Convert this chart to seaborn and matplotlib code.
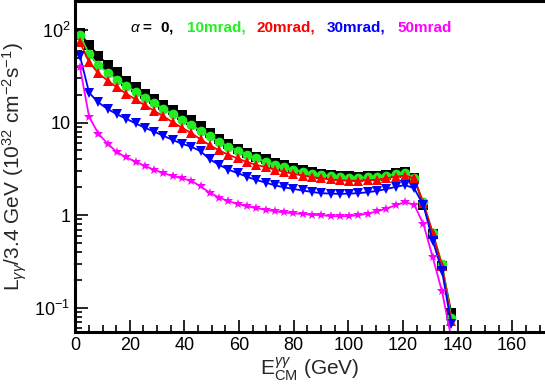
import matplotlib
matplotlib.use("Agg")
import matplotlib.pyplot as plt
import numpy as np
import pandas as pd
import seaborn as sns
from matplotlib.ticker import FixedLocator, FixedFormatter, MultipleLocator, LogLocator, NullFormatter

# bin centres (GeV), 3.4 GeV bins
e_cm = [1.7, 5.1, 8.5, 11.9, 15.3, 18.7, 22.1, 25.5, 28.9, 32.3, 35.7, 39.1, 42.5, 45.9,
        49.3, 52.7, 56.1, 59.5, 62.9, 66.3, 69.7, 73.1, 76.5, 79.9, 83.3, 86.7, 90.1, 93.5,
        96.9, 100.3, 103.7, 107.1, 110.5, 113.9, 117.3, 120.7, 124.1, 127.5, 130.9, 134.3, 137.7]

lumi_0 = [92, 69, 53, 42, 35, 28.5, 24, 20.5, 17.8, 15.5, 13.6, 12.2, 10.8, 9.3, 7.8, 6.7,
          5.9, 5.2, 4.7, 4.3, 4.0, 3.7, 3.45, 3.25, 3.05, 2.9, 2.8, 2.72, 2.65, 2.62, 2.6,
          2.62, 2.66, 2.75, 2.85, 2.9, 2.5, 1.3, 0.63, 0.28, 0.088]
lumi_10 = [88, 55, 41.5, 34.5, 29, 25, 21.5, 18.6, 16.2, 14.1, 12.3, 10.8, 9.4, 8.2, 7.1, 6.2,
           5.5, 4.95, 4.5, 4.1, 3.8, 3.5, 3.3, 3.1, 2.95, 2.82, 2.72, 2.64, 2.58, 2.55, 2.54,
           2.56, 2.6, 2.68, 2.78, 2.85, 2.5, 1.38, 0.64, 0.3, 0.078]
lumi_20 = [74, 45, 34, 28.5, 24, 20.5, 17.8, 15.4, 13.4, 11.7, 10.1, 8.8, 7.7, 6.6, 5.7,
           5.0, 4.5, 4.1, 3.75, 3.5, 3.3, 3.1, 2.93, 2.8, 2.68, 2.58, 2.5, 2.43, 2.38, 2.36,
           2.36, 2.38, 2.42, 2.5, 2.6, 2.68, 2.5, 1.34, 0.64, 0.285, 0.072]
lumi_30 = [53, 21, 16.5, 14, 12.3, 11, 9.8, 8.8, 8.0, 7.2, 6.5, 5.9, 5.5, 4.9, 4.0, 3.5,
           3.1, 2.85, 2.6, 2.4, 2.25, 2.1, 2.0, 1.92, 1.85, 1.78, 1.73, 1.71, 1.7, 1.71, 1.73,
           1.77, 1.83, 1.92, 2.02, 2.12, 1.95, 1.28, 0.53, 0.25, 0.066]
lumi_50 = [40, 11.5, 7.6, 5.9, 4.8, 4.2, 3.8, 3.4, 3.1, 2.85, 2.65, 2.5, 2.35, 2.05, 1.75,
           1.55, 1.42, 1.32, 1.25, 1.19, 1.15, 1.1, 1.07, 1.05, 1.03, 1.01, 1.0, 0.98, 0.97,
           0.98, 1.0, 1.04, 1.1, 1.18, 1.28, 1.38, 1.3, 0.8, 0.35, 0.15, 0.047]

series = ["0", "10mrad", "20mrad", "30mrad", "50mrad"]
colors = ["#000000", "#22ee22", "#ff0000", "#0000ff", "#ff00ff"]
markers = ["s", "o", "^", "v", "*"]
legend_txt = [r"$\alpha$ =  0,", "10mrad,", "20mrad,", "30mrad,", "50mrad"]

sns.set_style("ticks")
plt.rcParams['font.family'] = ['Liberation Sans', 'DejaVu Sans']
plt.rcParams['mathtext.fontset'] = 'custom'
plt.rcParams['mathtext.rm'] = 'Liberation Sans'
plt.rcParams['mathtext.it'] = 'Liberation Sans:italic'

df = pd.DataFrame({
    "E": e_cm * 5,
    "L": lumi_0 + lumi_10 + lumi_20 + lumi_30 + lumi_50,
    "alpha": [s for s in series for _ in e_cm],
})

fig = plt.figure(figsize=(5.45, 3.89), dpi=100)
ax = fig.add_axes([0.138, 0.147, 0.862, 0.850])

sns.lineplot(data=df, x="E", y="L", hue="alpha", style="alpha", hue_order=series,
             style_order=series, palette=dict(zip(series, colors)),
             markers=dict(zip(series, markers)), dashes=False, estimator=None,
             sort=False, markersize=7, markeredgewidth=0, linewidth=1.3,
             legend=False, ax=ax)

ax.set_yscale("log")
ax.set_xlim(0, 172)
ax.set_ylim(0.055, 205)

ax.xaxis.set_major_locator(MultipleLocator(20))
ax.xaxis.set_minor_locator(MultipleLocator(5))
ax.yaxis.set_major_locator(FixedLocator([0.1, 1, 10, 100]))
ax.yaxis.set_major_formatter(FixedFormatter([r"$10^{-1}$", "1", "10", r"$10^{2}$"]))
ax.yaxis.set_minor_locator(LogLocator(base=10, subs=np.arange(2, 10)))
ax.yaxis.set_minor_formatter(NullFormatter())

ax.tick_params(which="both", direction="in", top=False, right=False, labelsize=13,
               width=1.2, colors="black")
ax.tick_params(which="major", length=9)
ax.tick_params(which="minor", length=5)

for side in ["left", "bottom", "top"]:
    ax.spines[side].set_linewidth(2.2)
    ax.spines[side].set_color("black")
ax.spines["right"].set_visible(False)

ax.set_xlabel(r"E$^{\gamma\gamma}_{\rm CM}$ (GeV)", fontsize=15, labelpad=1)
ax.set_ylabel(r"L$_{\gamma\gamma}$/3.4 GeV (10$^{32}$ cm$^{-2}$s$^{-1}$)", fontsize=15,
              labelpad=4)

xs = [0.117, 0.238, 0.385, 0.536, 0.685]
for x, t, c in zip(xs, legend_txt, colors):
    ax.text(x, 0.92, t, transform=ax.transAxes, color=c, fontsize=11,
            fontweight="bold", va="center", ha="left")

fig.savefig("out.png", dpi=100)
